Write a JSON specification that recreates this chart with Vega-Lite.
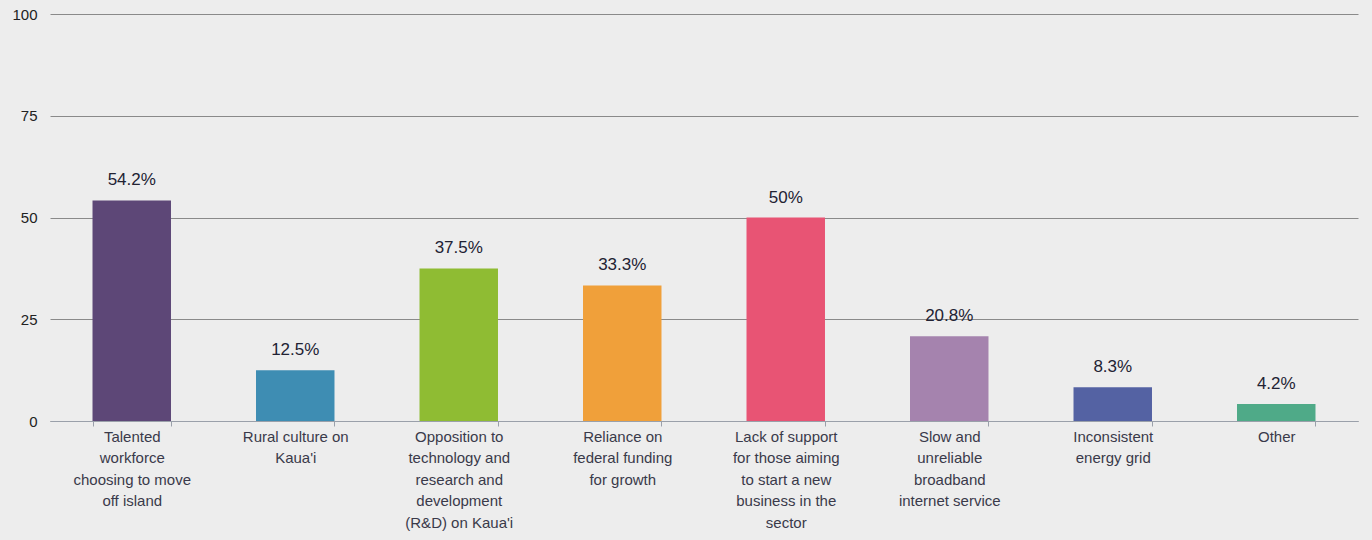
{
  "$schema": "https://vega.github.io/schema/vega-lite/v6.json",
  "width": 1308,
  "height": 407,
  "autosize": {"type": "none"},
  "padding": {"left": 50, "top": 14, "right": 14, "bottom": 119},
  "background": "#ededed",
  "config": {
    "view": {"stroke": null},
    "font": "Liberation Sans"
  },
  "data": {
    "values": [
      {"category": "Talented|workforce|choosing to move|off island", "value": 54.2, "color": "#5d4777"},
      {"category": "Rural culture on|Kaua'i", "value": 12.5, "color": "#3e8db3"},
      {"category": "Opposition to|technology and|research and|development|(R&D) on Kaua'i", "value": 37.5, "color": "#8fbc33"},
      {"category": "Reliance on|federal funding|for growth", "value": 33.3, "color": "#f0a03a"},
      {"category": "Lack of support|for those aiming|to start a new|business in the|sector", "value": 50, "color": "#e85474"},
      {"category": "Slow and|unreliable|broadband|internet service", "value": 20.8, "color": "#a583ae"},
      {"category": "Inconsistent|energy grid", "value": 8.3, "color": "#5462a3"},
      {"category": "Other", "value": 4.2, "color": "#4faa88"}
    ]
  },
  "transform": [
    {"calculate": "format(datum.value, '.3~r') + '%'", "as": "label"}
  ],
  "encoding": {
    "x": {
      "field": "category",
      "type": "nominal",
      "sort": null,
      "scale": {"paddingInner": 0.52, "paddingOuter": 0.26},
      "axis": {
        "title": null,
        "labelAngle": 0,
        "labelExpr": "split(datum.label, '|')",
        "labelFontSize": 15,
        "labelColor": "#3a3a4a",
        "labelLineHeight": 21.5,
        "labelPadding": 3,
        "labelLimit": 200,
        "domainColor": "#9aa0aa",
        "tickColor": "#9aa0aa",
        "tickBand": "extent",
        "tickSize": 5,
        "grid": false
      }
    },
    "y": {
      "field": "value",
      "type": "quantitative",
      "scale": {"domain": [0, 100]},
      "axis": {
        "title": null,
        "values": [0, 25, 50, 75, 100],
        "labelFontSize": 15,
        "labelColor": "#222222",
        "labelPadding": 13,
        "domain": false,
        "ticks": false,
        "gridColor": "#8a8a8a",
        "gridWidth": 1
      }
    }
  },
  "layer": [
    {
      "mark": {"type": "bar"},
      "encoding": {
        "color": {"field": "color", "type": "nominal", "scale": null, "legend": null}
      }
    },
    {
      "mark": {"type": "text", "dy": -20, "fontSize": 17, "color": "#222233", "fontWeight": 500},
      "encoding": {
        "text": {"field": "label"}
      }
    }
  ]
}
